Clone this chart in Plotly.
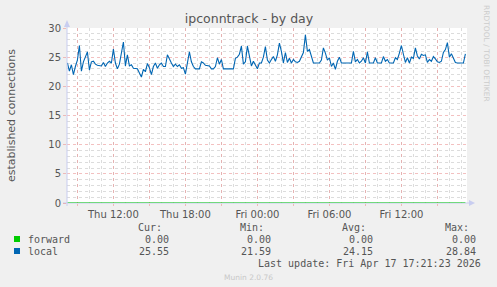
import plotly.graph_objects as go
import pandas as pd

# ---------------- data ----------------
start_time = "2026-04-16 08:10"
sample_step = "10min"

local_values = [
    24.0, 22.6, 23.7, 22.0, 23.4, 24.5, 27.0, 22.6, 24.2, 25.1,
    25.9, 22.8, 24.2, 24.3, 23.8, 23.6, 23.6, 23.5, 24.1, 23.4,
    24.0, 24.3, 24.0, 26.4, 24.0, 23.0, 23.8, 26.0, 27.6, 23.5,
    25.4, 23.5, 23.7, 23.1, 23.1, 23.0, 22.3, 21.6, 22.9, 22.5,
    23.9, 23.2, 22.0, 23.4, 24.0, 23.1, 23.7, 24.0, 23.4, 23.4,
    25.4, 24.6, 24.0, 23.4, 23.8, 23.4, 23.7, 23.1, 23.2, 22.1,
    23.8, 25.9, 24.2, 23.4, 23.0, 23.0, 23.0, 24.2, 24.0, 23.6,
    23.6, 23.5, 23.0, 23.0, 23.4, 24.9, 23.8, 24.6, 23.0, 23.0,
    23.0, 23.0, 23.0, 23.0, 24.8, 25.0, 25.5, 26.9, 23.8, 24.2,
    26.9, 25.0, 23.5, 24.3, 23.5, 23.0, 24.0, 24.0, 25.0, 26.8,
    24.5, 24.0, 24.6, 25.1, 24.3, 25.4, 27.4, 26.0, 24.0, 25.8,
    24.1, 24.8, 24.0, 24.6, 24.2, 24.1, 24.3, 25.0, 25.8, 28.84,
    26.0, 26.3, 24.9, 24.0, 24.0, 24.0, 24.0, 24.5, 26.6, 25.7,
    24.5, 24.9, 23.4, 24.0, 22.9, 24.3, 25.0, 24.0, 24.0, 24.0,
    24.0, 24.0, 24.0, 26.0, 24.2, 24.6, 24.0, 24.3, 24.9, 24.0,
    25.9, 24.0, 24.0, 24.0, 24.9, 24.0, 24.0, 24.0, 25.1, 24.3,
    24.6, 24.0, 24.0, 24.0, 24.9, 24.6, 25.7, 27.0, 25.5, 24.1,
    24.9, 24.0, 25.0, 24.8, 26.6, 25.2, 24.7, 25.5, 25.3, 25.4,
    24.1, 24.6, 24.3, 25.1, 24.7, 24.2, 24.1, 24.3, 25.8, 26.3,
    27.5, 25.0, 25.6, 24.8, 24.1, 24.0, 24.0, 24.0, 24.0, 25.55,
]
forward_values = [0.0] * len(local_values)

series_names = ["forward", "local"]
series_colors = ["#00CC00", "#0066B3"]
stat_headers = ["Cur:", "Min:", "Avg:", "Max:"]
forward_stats = ["0.00", "0.00", "0.00", "0.00"]
local_stats = ["25.55", "21.59", "24.15", "28.84"]

x_range = ["2026-04-16 08:08", "2026-04-17 17:28"]
major_ticks = ["2026-04-16 09:00", "2026-04-16 12:00", "2026-04-16 15:00",
               "2026-04-16 18:00", "2026-04-16 21:00", "2026-04-17 00:00",
               "2026-04-17 03:00", "2026-04-17 06:00", "2026-04-17 09:00",
               "2026-04-17 12:00", "2026-04-17 15:00"]
major_labels = ["", "Thu 12:00", "", "Thu 18:00", "", "Fri 00:00",
                "", "Fri 06:00", "", "Fri 12:00", ""]

title_text = "ipconntrack - by day"
y_title = "established connections"
last_update = "Last update: Fri Apr 17 17:21:23 2026"
footer = "Munin 2.0.76"
side_text = "RRDTOOL / TOBI OETIKER"

times = pd.date_range(start_time, periods=len(local_values), freq=sample_step)

# ---------------- layout helpers ----------------
W, H = 497, 287
L, R, T, B = 67, 30, 28, 84
PW, PH = W - L - R, H - T - B


def px(x):
    return (x - L) / PW


def py(y):
    return (H - B - y) / PH


TXT = "#555555"
MONO = "DejaVu Sans Mono"
SANS = "DejaVu Sans"
MAJOR = "rgba(235,150,150,0.6)"
MINOR = "rgba(185,185,185,0.5)"
AXC = "#c8cdf0"

fig = go.Figure()
fig.add_trace(go.Scatter(x=times, y=forward_values, mode="lines",
                         line=dict(color=series_colors[0], width=1),
                         name=series_names[0], hoverinfo="skip"))
fig.add_trace(go.Scatter(x=times, y=local_values, mode="lines",
                         line=dict(color=series_colors[1], width=1.1),
                         name=series_names[1], hoverinfo="skip"))

fig.update_xaxes(
    range=x_range, tickmode="array", tickvals=major_ticks, ticktext=major_labels,
    showgrid=True, gridcolor=MAJOR, griddash="dot", gridwidth=1,
    zeroline=False, showline=False,
    ticks="outside", ticklen=2, tickcolor=MAJOR,
    tickfont=dict(family=SANS, size=10, color=TXT),
    minor=dict(dtick=3600000, showgrid=True, gridcolor=MINOR, griddash="dot",
               gridwidth=1, ticks=""),
    fixedrange=True,
)
fig.update_yaxes(
    range=[0, 30], dtick=5, tick0=0,
    showgrid=True, gridcolor=MAJOR, griddash="dot", gridwidth=1,
    zeroline=False, showline=False,
    ticks="outside", ticklen=3, tickcolor=MAJOR,
    tickfont=dict(family=SANS, size=10, color=TXT),
    minor=dict(dtick=1, showgrid=True, gridcolor=MINOR, griddash="dot",
               gridwidth=1, ticks=""),
    fixedrange=True,
)

shapes = [
    # y axis line + arrow
    dict(type="line", xref="paper", yref="paper", x0=px(67), x1=px(67),
         y0=py(206), y1=py(24), line=dict(color=AXC, width=1), layer="above"),
    dict(type="path", xref="paper", yref="paper",
         path=f"M {px(64)} {py(27)} L {px(70)} {py(27)} L {px(67)} {py(20)} Z",
         fillcolor=AXC, line=dict(width=0), layer="above"),
    # x axis line + arrow
    dict(type="line", xref="paper", yref="paper", x0=px(63), x1=px(470),
         y0=py(203), y1=py(203), line=dict(color=AXC, width=1), layer="below"),
    dict(type="path", xref="paper", yref="paper",
         path=f"M {px(469)} {py(200)} L {px(469)} {py(206)} L {px(475)} {py(203)} Z",
         fillcolor=AXC, line=dict(width=0), layer="above"),
]

annotations = [
    dict(text=y_title, x=px(11), y=py(115), xref="paper", yref="paper",
         textangle=-90, showarrow=False, xanchor="center", yanchor="middle",
         font=dict(family=SANS, size=11, color=TXT)),
    dict(text=side_text, x=px(487), y=py(53), xref="paper", yref="paper",
         textangle=90, showarrow=False, xanchor="center", yanchor="middle",
         font=dict(family=SANS, size=7.5, color="#cccccc")),
    dict(text=footer, x=px(248), y=py(277), xref="paper", yref="paper",
         showarrow=False, xanchor="center", yanchor="middle",
         font=dict(family=SANS, size=7.5, color="#c8c8c8")),
    dict(text=last_update, x=px(483), y=py(263), xref="paper", yref="paper",
         showarrow=False, xanchor="right", yanchor="middle",
         font=dict(family=MONO, size=10, color=TXT)),
]

header_right = [164, 266, 368, 471]
value_right = [171, 273, 375, 478]
for hx, h in zip(header_right, stat_headers):
    annotations.append(dict(text=h, x=px(hx), y=py(227), xref="paper", yref="paper",
                            showarrow=False, xanchor="right", yanchor="middle",
                            font=dict(family=MONO, size=10, color=TXT)))

rows_y = [239, 251]
for name, color, stats, ry in zip(series_names, series_colors,
                                  [forward_stats, local_stats], rows_y):
    shapes.append(dict(type="rect", xref="paper", yref="paper",
                       x0=px(14), x1=px(20), y0=py(ry + 3), y1=py(ry - 3),
                       fillcolor=color, line=dict(width=0)))
    annotations.append(dict(text=name, x=px(26), y=py(ry), xref="paper", yref="paper",
                            showarrow=False, xanchor="left", yanchor="middle",
                            font=dict(family=MONO, size=10, color=TXT)))
    for vx, v in zip(value_right, stats):
        annotations.append(dict(text=v, x=px(vx), y=py(ry), xref="paper", yref="paper",
                                showarrow=False, xanchor="right", yanchor="middle",
                                font=dict(family=MONO, size=10, color=TXT)))

fig.update_layout(
    width=W, height=H,
    margin=dict(l=L, r=R, t=T, b=B, pad=0),
    paper_bgcolor="#F0F0F0", plot_bgcolor="#FFFFFF",
    showlegend=False,
    title=dict(text=title_text, x=px(249), xref="paper", xanchor="center",
               y=1 - 19 / H, yanchor="middle",
               font=dict(family=SANS, size=12.5, color=TXT)),
    shapes=shapes, annotations=annotations,
)

fig.write_html("out.html", config={"displayModeBar": False})
